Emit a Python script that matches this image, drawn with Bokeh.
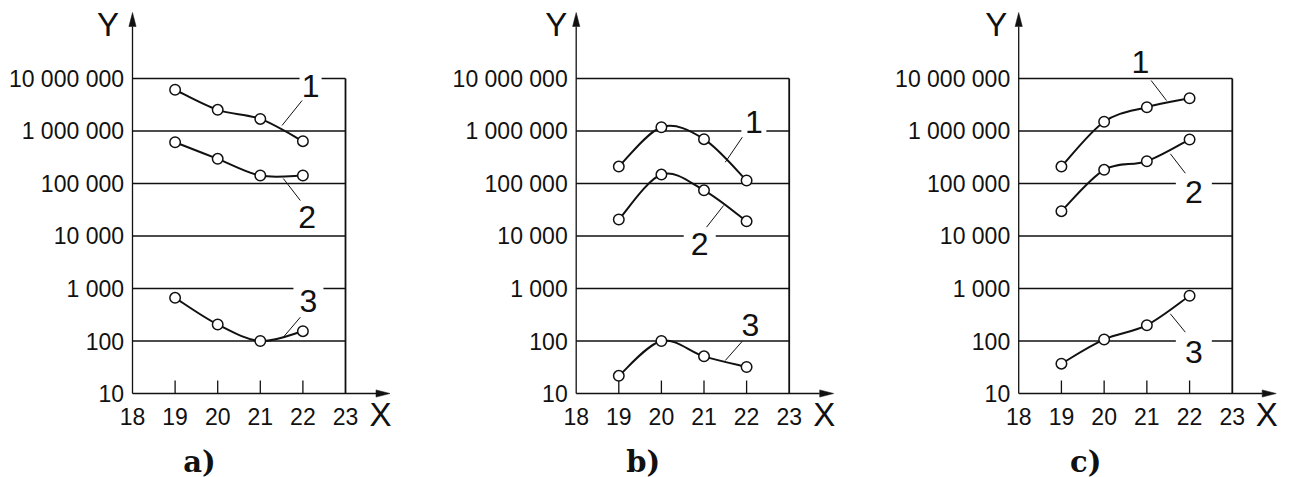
import numpy as np
from bokeh.plotting import figure
from bokeh.models import Range1d
from bokeh.embed import file_html
from bokeh.resources import INLINE
from bokeh.core.properties import value

# ---------------- data ----------------
panel_names = ["a)", "b)", "c)"]
x_points = [19, 20, 21, 22]
x_ticks = [18, 19, 20, 21, 22, 23]
x_tick_labels = ["18", "19", "20", "21", "22", "23"]
y_ticks = [10, 100, 1000, 10000, 100000, 1000000, 10000000]
y_tick_labels = ["10", "100", "1 000", "10 000", "100 000", "1 000 000", "10 000 000"]
series_names = ["1", "2", "3"]

a_s1 = [6.1e6, 2.53e6, 1.7e6, 6.4e5]
a_s2 = [6.1e5, 2.95e5, 1.42e5, 1.42e5]
a_s3 = [664, 206, 100, 154]

b_s1 = [2.1e5, 1.18e6, 7.0e5, 1.14e5]
b_s2 = [2.06e4, 1.48e5, 7.4e4, 1.9e4]
b_s3 = [21.7, 100, 51, 32]

c_s1 = [2.1e5, 1.5e6, 2.84e6, 4.2e6]
c_s2 = [2.97e4, 1.82e5, 2.66e5, 6.9e5]
c_s3 = [37, 107, 200, 727]

panel_series = [[a_s1, a_s2, a_s3], [b_s1, b_s2, b_s3], [c_s1, c_s2, c_s3]]

# ---------------- layout (pixels / annotation placement) ----------------
W, H = 1290, 477
PY10 = 393.0          # pixel row of y = 10
PXDEC = 52.5          # pixels per decade
LOG_BOT = 1 - (H - PY10) / PXDEC
LOG_TOP = 1 + PY10 / PXDEC
panel_origin = [132.0, 575.7, 1018.2]   # pixel column of x = 18
panel_kx = [42.6, 42.6, 42.72]          # pixels per x unit
X0, X1 = 18, 23
Y_TOP_GRID = 10000000

def ly(py):
    """pixel row -> data y"""
    return 10 ** (1 + (PY10 - py) / PXDEC)

# label positions: (x, log10 y), leader (x0, log0, x1, log1), gap width px
label_layout = [
    [((22.18, 6.85), (21.98, 6.58, 21.51, 6.105), 22),
     ((22.10, 4.36), (21.94, 4.676, 21.54, 5.095), 24),
     ((22.13, 2.77), (21.94, 2.453, 21.54, 2.072), 30)],
    [((22.17, 6.17), (21.90, 5.882, 21.50, 5.406), 25),
     ((20.90, 3.85), (21.06, 4.168, 21.46, 4.581), 32),
     ((22.09, 2.31), (21.90, 1.996, 21.50, 1.629), 24)],
    [((20.85, 7.32), (21.10, 6.962, 21.46, 6.581), 20),
     ((22.10, 4.83), (21.90, 5.196, 21.55, 5.566), 36),
     ((22.10, 1.80), (21.90, 2.168, 21.55, 2.518), 36)],
]
y_letter_dx = [-24.5, -20.0, -22.5]   # px offset of "Y" from the y axis

INK = "#111111"
SANS = value("Liberation Sans")

p = figure(width=W, height=H, x_range=Range1d(0, 1),
           y_range=Range1d(10 ** LOG_BOT, 10 ** LOG_TOP),
           y_axis_type="log", x_axis_location=None, y_axis_location=None,
           toolbar_location=None, output_backend="svg", min_border=0,
           outline_line_color=None, background_fill_color="white",
           border_fill_color="white")
p.grid.visible = False

ranges = {}
for i, name in enumerate(["a", "b", "c"]):
    start = X0 - panel_origin[i] / panel_kx[i]
    ranges[name] = Range1d(start, start + W / panel_kx[i])
p.extra_x_ranges = ranges


def catmull_bezier(xs, ys):
    lx = np.asarray(xs, float)
    lg = np.log10(np.asarray(ys, float))
    ex = np.concatenate([[lx[0]], lx, [lx[-1]]])
    eg = np.concatenate([[lg[0]], lg, [lg[-1]]])
    n = len(lx)
    out = dict(x0=[], y0=[], x1=[], y1=[], cx0=[], cy0=[], cx1=[], cy1=[])
    for i in range(n - 1):
        a, b, c, d = i, i + 1, i + 2, i + 3
        out["x0"].append(ex[b]); out["y0"].append(10 ** eg[b])
        out["x1"].append(ex[c]); out["y1"].append(10 ** eg[c])
        out["cx0"].append(ex[b] + (ex[c] - ex[a]) / 6)
        out["cy0"].append(10 ** (eg[b] + (eg[c] - eg[a]) / 6))
        out["cx1"].append(ex[c] - (ex[d] - ex[b]) / 6)
        out["cy1"].append(10 ** (eg[c] - (eg[d] - eg[b]) / 6))
    return out


for i, rn in enumerate(["a", "b", "c"]):
    kx = panel_kx[i]
    # horizontal grid lines
    grid_vals = y_ticks[1:]
    p.segment(x0=[X0] * len(grid_vals), x1=[X1] * len(grid_vals), y0=grid_vals, y1=grid_vals,
              x_range_name=rn, line_color=INK, line_width=1.3)
    # right frame line
    p.segment(x0=[X1], x1=[X1], y0=[y_ticks[0]], y1=[Y_TOP_GRID], x_range_name=rn,
              line_color=INK, line_width=1.8)
    # x axis with arrow
    x_tip = X0 + 257.5 / kx
    head_len, head_half = 14.0, 3.6
    p.segment(x0=[X0], x1=[x_tip - head_len / kx], y0=[y_ticks[0]], y1=[y_ticks[0]],
              x_range_name=rn, line_color=INK, line_width=1.3)
    p.patch(x=[x_tip, x_tip - head_len / kx, x_tip - head_len / kx],
            y=[ly(PY10), ly(PY10 - head_half), ly(PY10 + head_half)],
            x_range_name=rn, fill_color=INK, line_color=INK, line_width=0.5)
    # y axis with arrow
    tip_py = 12.0
    p.segment(x0=[X0], x1=[X0], y0=[y_ticks[0]], y1=[ly(tip_py + head_len)],
              x_range_name=rn, line_color=INK, line_width=1.3)
    p.patch(x=[X0, X0 - head_half / kx, X0 + head_half / kx],
            y=[ly(tip_py), ly(tip_py + head_len), ly(tip_py + head_len)],
            x_range_name=rn, fill_color=INK, line_color=INK, line_width=0.5)
    # x ticks (inward)
    inner = x_ticks[1:-1]
    p.segment(x0=inner, x1=inner, y0=[y_ticks[0]] * len(inner), y1=[ly(PY10 - 13)] * len(inner),
              x_range_name=rn, line_color=INK, line_width=1.3)
    # tick labels
    p.text(x=[X0 - 8.5 / kx] * len(y_ticks), y=y_ticks, text=y_tick_labels, x_range_name=rn,
           text_font=SANS, text_font_size="23px", text_align="right",
           text_baseline="middle", text_color=INK)
    p.text(x=x_ticks, y=[ly(PY10 + 23)] * len(x_ticks), text=x_tick_labels, x_range_name=rn,
           text_font=SANS, text_font_size="23px", text_align="center",
           text_baseline="middle", text_color=INK)
    # axis letters
    p.text(x=[X0 + y_letter_dx[i] / kx], y=[ly(24)], text=["Y"], x_range_name=rn,
           text_font=SANS, text_font_size="33px", text_align="center",
           text_baseline="middle", text_color=INK)
    p.text(x=[X0 + 248.0 / kx], y=[ly(414)], text=["X"], x_range_name=rn,
           text_font=SANS, text_font_size="33px", text_align="center",
           text_baseline="middle", text_color=INK)
    # panel caption
    p.text(x=[X0 + 67.0 / kx], y=[ly(461)], text=[panel_names[i]], x_range_name=rn,
           text_font=value("DejaVu Serif"), text_font_size="29px", text_font_style="bold",
           text_align="center", text_baseline="middle", text_color=INK)
    # series
    for j, ys in enumerate(panel_series[i]):
        bz = catmull_bezier(x_points, ys)
        p.bezier(x_range_name=rn, line_color=INK, line_width=2.0, **bz)
        p.scatter(x=x_points, y=ys, x_range_name=rn, marker="circle", size=10.5,
                  fill_color="white", line_color=INK, line_width=1.5)
        (lxp, lyp), (a0, b0, a1, b1), gap = label_layout[i][j]
        p.rect(x=[lxp], y=[10 ** lyp], width=gap, height=30, width_units="screen",
               height_units="screen", x_range_name=rn, fill_color="white", line_color=None)
        p.text(x=[lxp], y=[10 ** lyp], text=[series_names[j]], x_range_name=rn,
               text_font=SANS, text_font_size="32px", text_align="center",
               text_baseline="middle", text_color=INK)
        p.segment(x0=[a0], y0=[10 ** b0], x1=[a1], y1=[10 ** b1], x_range_name=rn,
                  line_color=INK, line_width=1.0)

open("out.html", "w").write(file_html(p, INLINE))
